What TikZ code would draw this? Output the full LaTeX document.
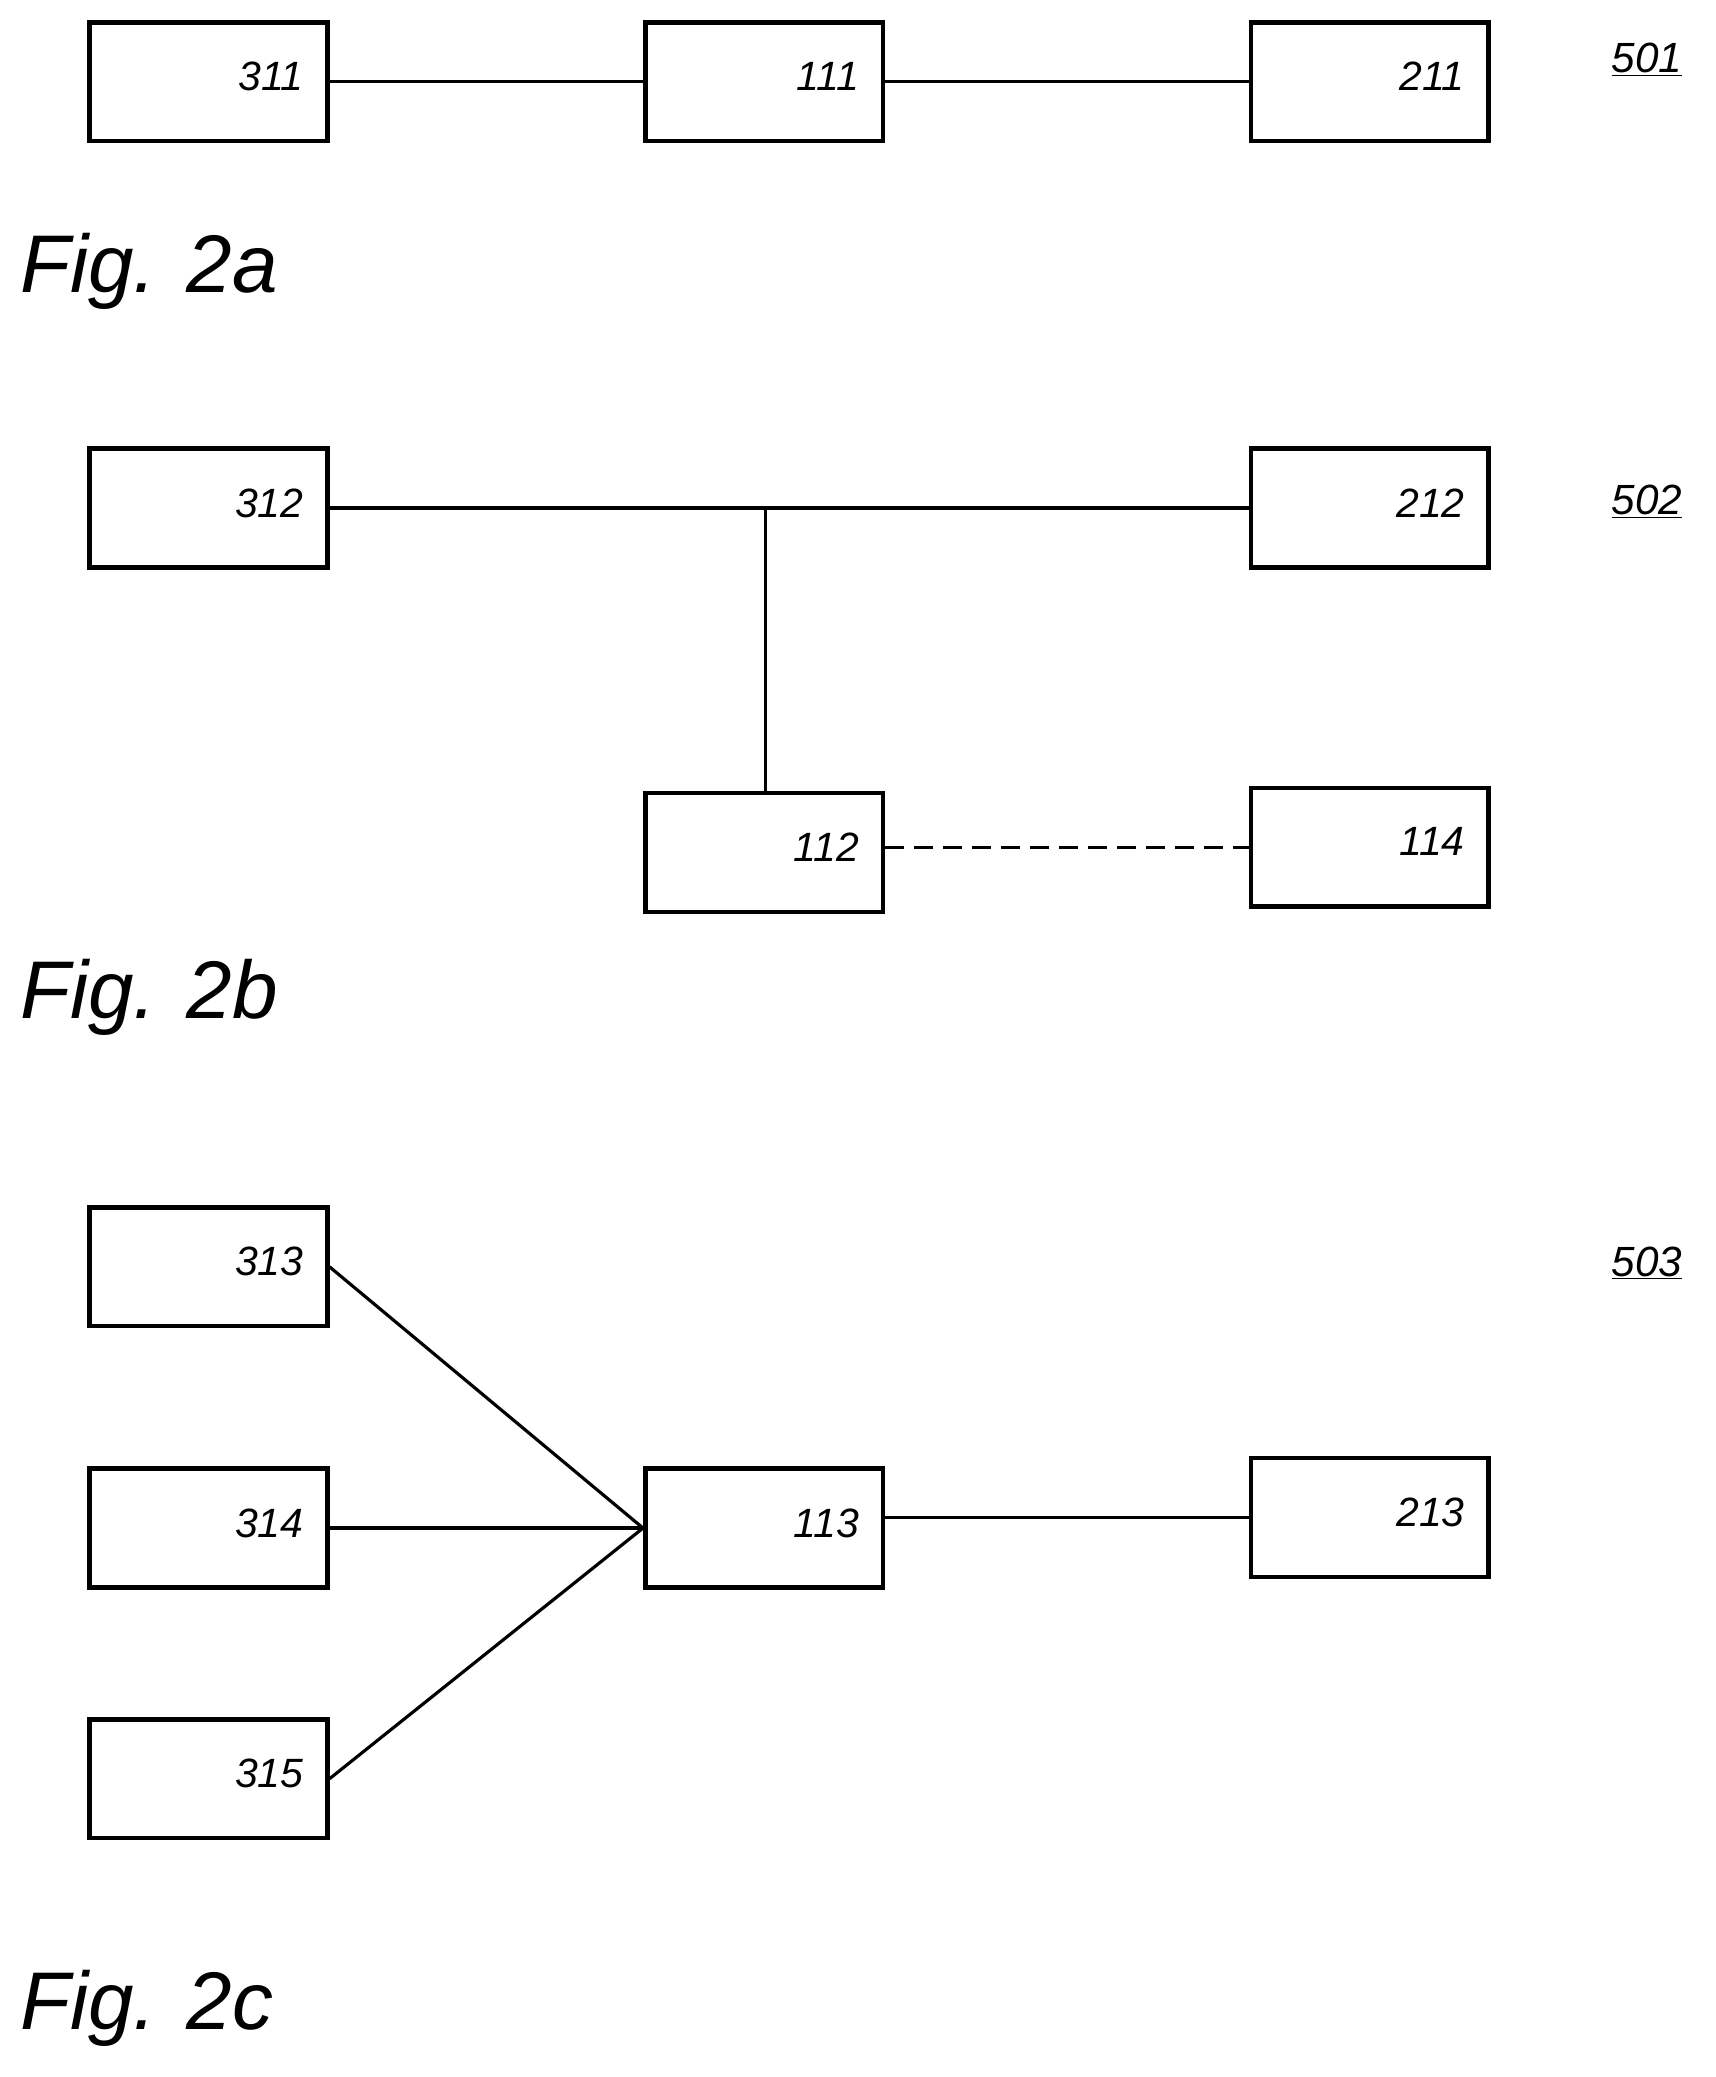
\documentclass[tikz,border=0pt]{standalone}
\usepackage{fontspec}
\setmainfont{Liberation Sans}
\usetikzlibrary{positioning}
\tikzset{
  box/.style={rectangle, draw=black, line width=3.4pt, minimum width=180pt, minimum height=90pt,
    text width=144pt, align=right, inner sep=0pt, text depth=8pt, font=\itshape\fontsize{31}{31}\selectfont},
  wire/.style={line width=2.4pt, color=black},
  fig/.style={anchor=base west, inner sep=0pt, font=\itshape\fontsize{62}{62}\selectfont},
  ref/.style={inner sep=0pt, font=\itshape\fontsize{32}{32}\selectfont}
}
\begin{document}
\begin{tikzpicture}[x=1pt,y=-1pt]
\useasboundingbox (0,0) rectangle (1300,1574);
% Fig. 2a
\node (311) [box] at (158, 62) {311};
\node (111) [box] at (579, 62) {111};
\node (211) [box] at (1038, 62) {211};
\draw [wire] (311) to (111);
\draw [wire] (111) to (211);
\node (r501) [ref] at (1248, 45) {\underline{501}};
\node (f2a) [fig] at (15, 222) {Fig. 2a};
% Fig. 2b
\node (312) [box] at (158, 385) {312};
\node (212) [box] at (1038, 385) {212};
\node (112) [box] at (579, 646) {112};
\node (114) [box] at (1038, 642) {114};
\coordinate (j) at (580, 385);
\draw [wire] (312) to (212);
\draw [wire] (j) to (112.north -| j);
\draw [wire, dash pattern=on 14pt off 8pt] (112.east |- 114) to (114);
\node (r502) [ref] at (1248, 380) {\underline{502}};
\node (f2b) [fig] at (15, 772) {Fig. 2b};
% Fig. 2c
\node (313) [box] at (158, 960) {313};
\node (314) [box] at (158, 1158) {314};
\node (315) [box] at (158, 1348) {315};
\node (113) [box] at (579, 1158) {113};
\node (213) [box] at (1038, 1150) {213};
\draw [wire] (313.east) to (113.west);
\draw [wire] (314.east) to (113.west);
\draw [wire] (315.east) to (113.west);
\draw [wire] (113.east |- 213) to (213);
\node (r503) [ref] at (1248, 957) {\underline{503}};
\node (f2c) [fig] at (15, 1538) {Fig. 2c};
\end{tikzpicture}
\end{document}
